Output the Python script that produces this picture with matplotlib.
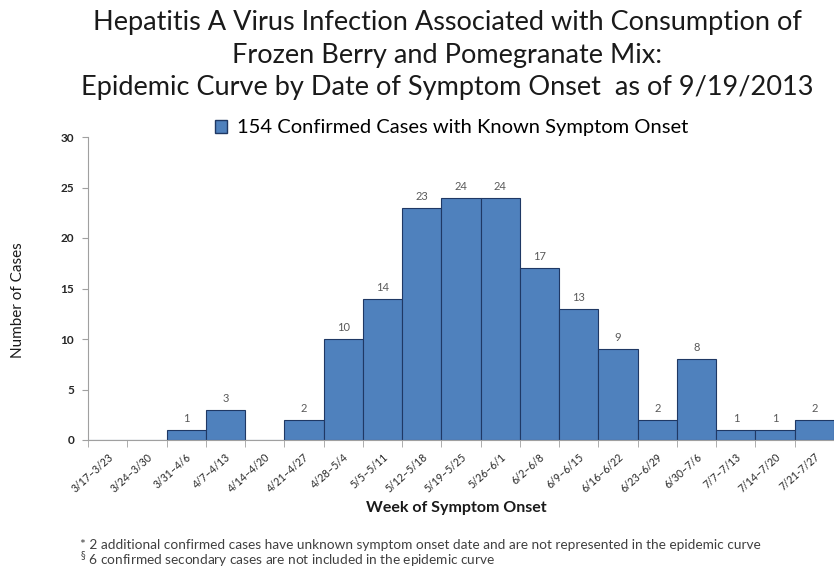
import matplotlib.pyplot as plt
import matplotlib.transforms as mtransforms
from matplotlib.patches import Patch

weeks = ['3/17–3/23', '3/24–3/30', '3/31–4/6', '4/7–4/13', '4/14–4/20',
         '4/21–4/27', '4/28–5/4', '5/5–5/11', '5/12–5/18', '5/19–5/25',
         '5/26–6/1', '6/2–6/8', '6/9–6/15', '6/16–6/22', '6/23–6/29',
         '6/30–7/6', '7/7–7/13', '7/14–7/20', '7/21-7/27']
cases = [0, 0, 1, 3, 0, 2, 10, 14, 23, 24, 24, 17, 13, 9, 2, 8, 1, 1, 2]

plt.rcParams['font.family'] = ['Lato', 'DejaVu Sans']

fig = plt.figure(figsize=(8.34, 5.69), dpi=100)
ax = fig.add_axes([88 / 834, 1 - 440 / 569, 1 - 88 / 834, (440 - 137) / 569])

x = range(len(weeks))
ax.bar(x, cases, width=1.0, color='#4F81BD', edgecolor='#1F3864', linewidth=0.8)
for i, v in enumerate(cases):
    if v > 0:
        ax.text(i, v + 0.6, str(v), ha='center', va='bottom', fontsize=8, color='#595959')

ax.set_xlim(-0.5, len(weeks) - 0.5)
ax.set_ylim(0, 30)
ax.set_yticks(range(0, 31, 5))
ax.set_yticklabels([str(t) for t in range(0, 31, 5)], fontsize=8.5, fontweight='bold', color='#262626')
ax.set_xticks(list(x))
ax.set_xticklabels(weeks, rotation=42, ha='right', rotation_mode='anchor', fontsize=7.6, color='#262626')
shift = mtransforms.ScaledTranslation(3 / 100, 0, fig.dpi_scale_trans)
for lbl in ax.get_xticklabels():
    lbl.set_transform(lbl.get_transform() + shift)
ax.set_xticks([i - 0.5 for i in range(len(weeks) + 1)], minor=True)
ax.tick_params(axis='x', which='major', length=0, pad=8)
ax.tick_params(axis='x', which='minor', length=5, color='#A0A0A0', direction='out')
ax.tick_params(axis='y', length=4, color='#A0A0A0', direction='out', pad=6)
for s in ['top', 'right']:
    ax.spines[s].set_visible(False)
for s in ['left', 'bottom']:
    ax.spines[s].set_color('#A0A0A0')

fig.text(18 / 834, 1 - 300 / 569, 'Number of Cases', rotation=90, ha='center', va='center',
         fontsize=11, color='#1a1a1a')
fig.text(456 / 834, 1 - 508 / 569, 'Week of Symptom Onset', ha='center', va='center',
         fontsize=11.5, fontweight='bold', color='#1a1a1a')

fig.text(447 / 834, 1 - 55 / 569,
         'Hepatitis A Virus Infection Associated with Consumption of\n'
         'Frozen Berry and Pomegranate Mix:\n'
         'Epidemic Curve by Date of Symptom Onset  as of 9/19/2013',
         ha='center', va='center', fontsize=19.5, linespacing=1.38, color='#1a1a1a')

fig.legend(handles=[Patch(facecolor='#4F81BD', edgecolor='#1F3864', label='154 Confirmed Cases with Known Symptom Onset')],
           loc='center', bbox_to_anchor=(452 / 834, 1 - 128 / 569), frameon=False,
           fontsize=14.5, handlelength=0.6, handleheight=0.6, handletextpad=0.5)

fig.text(80 / 834, 1 - 545 / 569,
         '* 2 additional confirmed cases have unknown symptom onset date and are not represented in the epidemic curve',
         ha='left', va='center', fontsize=9.8, color='#404040')
fig.text(80 / 834, 1 - 560 / 569,
         '$^{\\S}$ 6 confirmed secondary cases are not included in the epidemic curve',
         ha='left', va='center', fontsize=9.8, color='#404040')

fig.savefig('out.png', dpi=100)
